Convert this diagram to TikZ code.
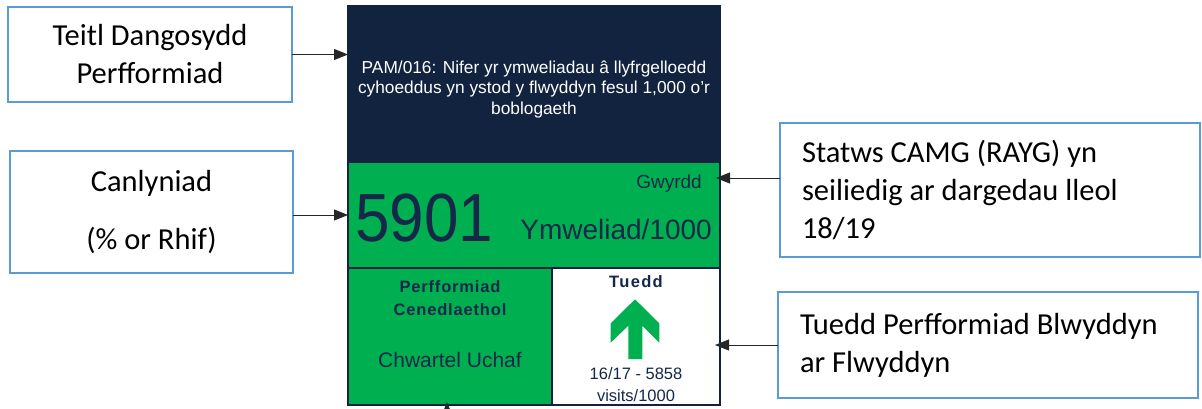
\documentclass[tikz,border=0pt]{standalone}
\usepackage{fontspec}
\setmainfont{Liberation Sans}
\newfontfamily\calfont{Carlito}
\newfontfamily\spfam[LetterSpace=5]{Liberation Sans}
\newfontfamily\spfamb[LetterSpace=8]{Liberation Sans}
\usetikzlibrary{arrows.meta}
\definecolor{navy}{HTML}{12233F}
\definecolor{ink}{HTML}{15284A}
\definecolor{kgreen}{HTML}{00B050}
\definecolor{callblue}{HTML}{5B9BD5}
\begin{document}
\begin{tikzpicture}[x=1pt,y=-1pt,
  callout/.style={draw=callblue, line width=2pt, fill=white, inner sep=0pt, outer sep=0pt, anchor=north west,
    font=\calfont\fontsize{30.5}{38}\selectfont, text=black},
  cell/.style={draw=navy, line width=2pt, inner sep=0pt, outer sep=0pt, anchor=north west},
  conn/.style={draw=black!85, line width=1pt, -{Triangle[length=14pt,width=11pt]}},
  lbl/.style={inner sep=0pt, text=ink}]
\useasboundingbox (0,0) rectangle (1202,408);
\clip (0,0) rectangle (1202,408);
% callouts
\node[callout, minimum width=284, minimum height=95, align=center] (T1) at (8,7) {Teitl Dangosydd\\Perfformiad};
\node[callout, minimum width=283, minimum height=122, align=center] (C1) at (10,151) {Canlyniad\\[20pt](\% or Rhif)};
\node[callout, minimum height=134, text width=376, inner xsep=22pt, align=flush left] (S1) at (780,123) {Statws CAMG (RAYG) yn\\seiliedig ar dargedau lleol\\18/19};
\node[callout, minimum height=106, text width=376, inner xsep=22pt, align=flush left] (T2) at (778,292) {Tuedd Perfformiad Blwyddyn\\ar Flwyddyn};
% panel
\node[cell, fill=navy, minimum width=372, minimum height=156] (title) at (348,6) {};
\node[cell, fill=kgreen, minimum width=372, minimum height=106] (result) at (348,162) {};
\node[cell, fill=kgreen, minimum width=204, minimum height=137] (natl) at (348,268) {};
\node[cell, fill=white, minimum width=168, minimum height=137] (trend) at (552,268) {};
% panel texts
\node[lbl, text=white, align=center, font=\fontsize{17.3}{20.5}\selectfont] (titletxt) at (534,89)
  {PAM/016: Nifer yr ymweliadau â llyfrgelloedd\\cyhoeddus yn ystod y flwyddyn fesul 1,000 o'r\\boblogaeth};
\node[lbl, anchor=base west, font=\fontsize{62}{62}\selectfont] (value) at (355,241) {\scalebox{1}[1.1]{5901}};
\node[lbl, anchor=base east, font=\fontsize{28}{28}\selectfont] (unit) at (712,239) {Ymweliad/1000};
\node[lbl, anchor=base east, font=\fontsize{19}{19}\selectfont] (rag) at (702,188) {Gwyrdd};
\node[lbl, align=center, font=\spfam\bfseries\fontsize{16.5}{23}\selectfont] (natlhead) at (450,298) {Perfformiad\\Cenedlaethol};
\node[lbl, anchor=base, font=\fontsize{21}{21}\selectfont] (quart) at (450,367) {Chwartel Uchaf};
\node[lbl, anchor=base, font=\spfamb\bfseries\fontsize{16.5}{16.5}\selectfont] (trendhead) at (636,287) {Tuedd};
\fill[kgreen] (635,299.3) -- (659.3,323.3) -- (659.3,342.7) -- (642.3,325.7) -- (642.3,359) -- (628.3,359)
  -- (628.3,325.7) -- (610.7,342.7) -- (610.7,323.3) -- cycle;
\node[lbl, align=center, font=\fontsize{16.5}{22}\selectfont] (trendtxt) at (636,384.5) {16/17 - 5858\\visits/1000};
% connectors
\coordinate (ragpt) at (716,178);
\coordinate (botstart) at (447,440);
\draw[conn] (T1.east) -- (T1.east -| title.west);
\draw[conn] (C1.east |- result.west) -- (result.west);
\draw[conn] (S1.west |- ragpt) -- (ragpt);
\draw[conn] (T2.west) -- ([xshift=-5pt]T2.west -| trend.east);
\draw[conn] (botstart) -- ([yshift=3pt]botstart |- natl.south);
\end{tikzpicture}
\end{document}
